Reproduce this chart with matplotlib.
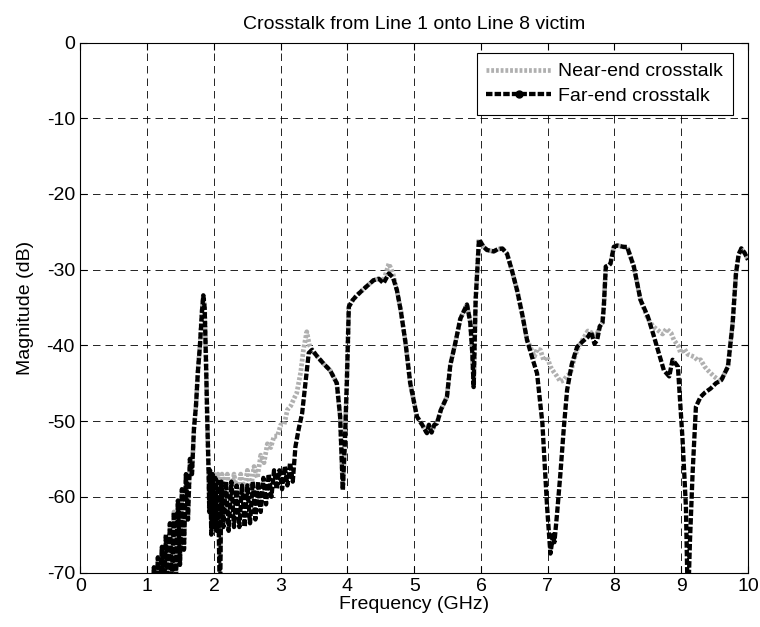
import numpy as np
import matplotlib
matplotlib.use('Agg')
import matplotlib.pyplot as plt
from matplotlib.lines import Line2D

plt.rcParams['font.family'] = ['Liberation Sans', 'DejaVu Sans']
plt.rcParams['axes.unicode_minus'] = False

# far-end crosstalk (GHz, dB)
far_freq = [0.0, 0.5, 0.9, 1.00, 1.04, 1.07, 1.10, 1.13, 1.16, 1.19, 1.22, 1.25,
            1.28, 1.31, 1.34, 1.37, 1.40, 1.43, 1.46, 1.49, 1.52, 1.55, 1.58,
            1.61, 1.64, 1.67, 1.70, 1.73, 1.76, 1.79, 1.82, 1.84, 1.86, 1.88,
            1.90, 1.92, 1.93, 1.94, 1.96, 1.98, 2.00, 2.02, 2.04, 2.06, 2.09,
            2.11, 2.14, 2.18, 2.22, 2.26, 2.30, 2.34, 2.38, 2.42, 2.46, 2.50,
            2.54, 2.58, 2.62, 2.66, 2.70, 2.74, 2.78, 2.82, 2.86, 2.90, 2.94,
            2.98, 3.02, 3.06, 3.10, 3.14, 3.18, 3.22, 3.27, 3.32, 3.37, 3.42,
            3.47, 3.55, 3.65, 3.74, 3.84, 3.89, 3.93, 3.96, 3.99, 4.02, 4.08,
            4.14, 4.25, 4.39, 4.47, 4.54, 4.62, 4.68, 4.74, 4.80, 4.87, 4.94,
            5.04, 5.12, 5.19, 5.22, 5.26, 5.30, 5.34, 5.40, 5.49, 5.54, 5.62,
            5.69, 5.79, 5.84, 5.87, 5.89, 5.92, 5.97, 6.04, 6.09, 6.19, 6.25,
            6.32, 6.39, 6.46, 6.54, 6.62, 6.69, 6.78, 6.84, 6.92, 6.99, 7.04,
            7.08, 7.10, 7.14, 7.19, 7.24, 7.29, 7.36, 7.44, 7.52, 7.60, 7.65,
            7.70, 7.74, 7.78, 7.82, 7.84, 7.87, 7.92, 7.94, 7.99, 8.04, 8.14,
            8.19, 8.29, 8.39, 8.50, 8.58, 8.65, 8.74, 8.82, 8.87, 8.95, 9.02,
            9.07, 9.10, 9.13, 9.17, 9.22, 9.29, 9.36, 9.44, 9.52, 9.60, 9.70,
            9.77, 9.82, 9.86, 9.90, 9.95, 10.0]
far_db = [-95, -88, -80, -78, -72, -76, -69.3, -75, -68, -74, -66.6, -73,
          -65, -72, -63.5, -71, -62, -71, -60.5, -69, -59, -67, -57,
          -63, -55, -57, -51, -48, -43.3, -40, -35.5, -33.4, -35, -42,
          -50, -57, -62, -56.5, -65, -57, -64, -57.5, -64.5, -58, -75,
          -58, -64, -58, -64.5, -58, -64, -58.5, -64, -58.5, -64, -58.5,
          -63.5, -58, -63, -58, -62, -57.5, -61, -57, -60, -56.5, -59,
          -56.5, -59, -56, -58.5, -55.5, -58, -53.4, -51, -49, -45, -41,
          -40.6, -41.5, -42.5, -43.3, -45, -49.4, -59.1, -53, -45, -34.9, -34,
          -33.4, -32.5, -31.4, -31.2, -31.8, -30.5, -31, -32.7, -35.5, -39.7, -45,
          -49.4, -50.5, -51.6, -50.5, -51.5, -50.5, -50.3, -48.5, -46.8, -42.6, -39.5,
          -36.5, -34.6, -37, -41, -45.5, -34, -26, -27, -27.4, -27.6, -27.3,
          -27.2, -27.9, -30, -32.7, -36, -39.3, -42, -43.7, -50.3, -61.3, -67.5,
          -65, -66, -62.2, -56.9, -51, -45.9, -42.5, -40.2, -39.5, -38.9, -38.2,
          -39.8, -39.3, -37.5, -37, -34.9, -29.6, -29.4, -29.2, -27, -26.8, -27,
          -27, -29.6, -34, -36.2, -38.5, -40.6, -43.3, -44.1, -41.9, -42.8, -52.5,
          -61.3, -75, -66, -56.9, -48.1, -46.8, -46.2, -45.7, -45, -44.6, -42.8,
          -37.1, -30.5, -28, -27.2, -27.8, -28.7]

# near-end crosstalk follows the far-end curve except in these stretches
near_seg1_freq = [1.94, 1.97, 2.00, 2.03, 2.06, 2.09, 2.12, 2.16, 2.20, 2.25,
                  2.30, 2.35, 2.40, 2.45, 2.50, 2.55, 2.60, 2.65, 2.70, 2.75,
                  2.80, 2.85, 2.90, 2.95, 3.00, 3.05, 3.10, 3.15, 3.20, 3.24,
                  3.30, 3.34, 3.39, 3.43, 3.47]
near_seg1_db = [-56.5, -62, -57, -62, -57, -68, -57, -61, -57, -60.5,
                -57, -60, -57, -59.5, -56.5, -59, -56, -57.5, -54.5, -55.5,
                -53, -53.5, -52, -52, -50.5, -50.5, -48.5, -48, -47, -46.3,
                -43.5, -40.6, -38.2, -40, -40.6]
near_seg2_freq = [4.54, 4.62, 4.68]
near_seg2_db = [-31.5, -29.2, -30.5]
near_seg3_freq = [6.69, 6.74, 6.80, 6.84, 6.89, 6.94, 6.99, 7.04, 7.09, 7.14,
                  7.19, 7.24, 7.29, 7.34, 7.39, 7.44, 7.52, 7.60, 7.70, 7.74]
near_seg3_db = [-39.3, -40.2, -41.5, -40.5, -40.6, -42, -41.5, -42.8, -43.5, -44.1,
                -44.8, -44.6, -44, -43.7, -42, -40.6, -39.3, -38.1, -38.5, -38.5]
near_seg4_freq = [8.39, 8.50, 8.58, 8.65, 8.72, 8.78, 8.85, 8.89, 8.95, 8.99,
                  9.05, 9.10, 9.19, 9.25, 9.29, 9.35, 9.40, 9.49, 9.55, 9.60]
near_seg4_db = [-34, -36.5, -37.5, -38, -38.5, -37.8, -38.4, -39.3, -40, -41,
                -40.5, -41.2, -41.5, -42, -41.9, -42.8, -43.3, -44.1, -44.5, -44.6]

x_ticks = list(range(0, 11))
y_ticks = list(range(-70, 1, 10))


def splice(freq, db, segments):
    f = np.array(freq, dtype=float)
    d = np.array(db, dtype=float)
    for sf, sd in segments:
        keep = (f < sf[0]) | (f > sf[-1])
        f = np.concatenate([f[keep], sf])
        d = np.concatenate([d[keep], sd])
        order = np.argsort(f, kind='stable')
        f, d = f[order], d[order]
    return f, d


near_freq, near_db = splice(far_freq, far_db, [
    (near_seg1_freq, near_seg1_db),
    (near_seg2_freq, near_seg2_db),
    (near_seg3_freq, near_seg3_db),
    (near_seg4_freq, near_seg4_db),
])

fig = plt.figure(figsize=(7.6, 6.27), dpi=100)
ax = fig.add_axes([0.1059, 0.0869, 0.8783, 0.8453])

near_style = dict(color='#b0b0b0', lw=3.4, ls=(0, (0.6, 0.4)))
far_style = dict(color='black', lw=3.1, ls=(0, (1.5, 0.5)))

ax.plot(near_freq, near_db, zorder=3, **near_style)
ax.plot(far_freq, far_db, zorder=4, **far_style)

ax.set_xlim(0, 10)
ax.set_ylim(-70, 0)
ax.set_xticks(x_ticks)
ax.set_yticks(y_ticks)
ax.tick_params(direction='in', top=True, right=True, length=5, width=0.8,
               labelsize=14, pad=4)
ax.grid(True, color='black', lw=0.6, ls=(0, (9, 6)))
for sp in ax.spines.values():
    sp.set_linewidth(0.8)

ax.set_xlabel('Frequency (GHz)', fontsize=14, labelpad=1)
ax.set_ylabel('Magnitude (dB)', fontsize=14, labelpad=9)
ax.set_title('Crosstalk from Line 1 onto Line 8 victim', fontsize=14, pad=10)

handles = [
    Line2D([], [], **near_style),
    Line2D([], [], marker='.', markersize=10, **far_style),
]
leg = ax.legend(handles, ['Near-end crosstalk', 'Far-end crosstalk'],
                loc='upper right', bbox_to_anchor=(0.9775, 0.980),
                borderaxespad=0, fontsize=14, fancybox=False, framealpha=1,
                edgecolor='black', handlelength=3.3, handletextpad=0.4,
                labelspacing=0.35, borderpad=0.5, numpoints=1)
leg.get_frame().set_linewidth(0.8)
leg.set_zorder(10)

fig.savefig('out.png', dpi=100)
